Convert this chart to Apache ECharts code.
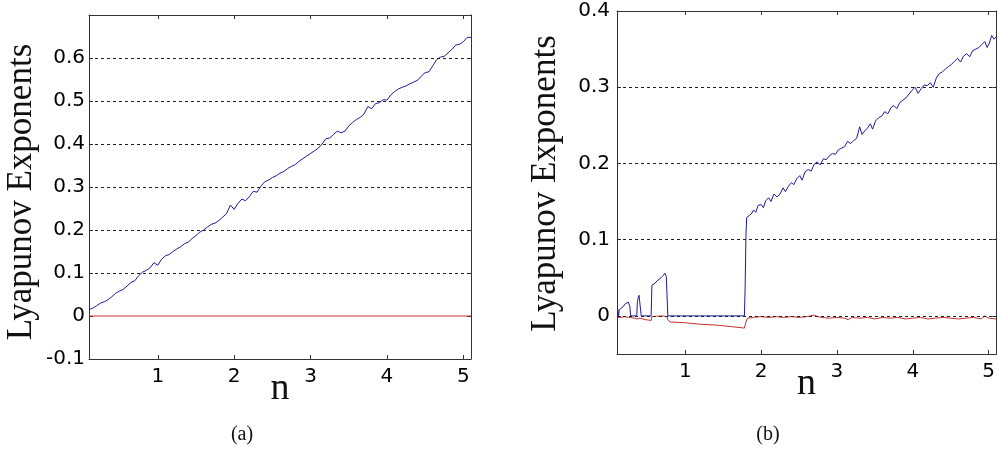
<!DOCTYPE html>
<html lang="en">
<head>
  <meta charset="utf-8">
</head>
<body style="margin: 0; background: #fff">
<div id="container" style="width: 998px; height: 453px"></div>

<script type="text/javascript" src="https://cdn.jsdelivr.net/npm/echarts@6/dist/echarts.min.js"></script>

<script type="text/javascript">
  // panel (a): n from 0.10 to 5.10, step 0.05
  var nA = [0.10,0.15,0.20,0.25,0.30,0.35,0.40,0.45,0.50,0.55,0.60,0.65,0.70,0.75,0.80,0.85,0.90,0.95,1.00,1.05,
            1.10,1.15,1.20,1.25,1.30,1.35,1.40,1.45,1.50,1.55,1.60,1.65,1.70,1.75,1.80,1.85,1.90,1.95,2.00,2.05,
            2.10,2.15,2.20,2.25,2.30,2.35,2.40,2.45,2.50,2.55,2.60,2.65,2.70,2.75,2.80,2.85,2.90,2.95,3.00,3.05,
            3.10,3.15,3.20,3.25,3.30,3.35,3.40,3.45,3.50,3.55,3.60,3.65,3.70,3.75,3.80,3.85,3.90,3.95,4.00,4.05,
            4.10,4.15,4.20,4.25,4.30,4.35,4.40,4.45,4.50,4.55,4.60,4.65,4.70,4.75,4.80,4.85,4.90,4.95,5.00,5.05,5.10];
  var blueA = [0.015,0.018,0.024,0.030,0.033,0.038,0.045,0.053,0.058,0.062,0.070,0.078,0.082,0.094,0.102,0.106,0.112,0.124,0.118,0.132,
               0.140,0.143,0.150,0.156,0.161,0.168,0.172,0.180,0.187,0.195,0.200,0.207,0.213,0.216,0.222,0.230,0.238,0.258,0.248,0.262,
               0.272,0.268,0.278,0.290,0.288,0.302,0.312,0.316,0.322,0.326,0.332,0.336,0.343,0.348,0.352,0.360,0.366,0.372,0.378,0.384,
               0.390,0.400,0.412,0.414,0.422,0.430,0.426,0.430,0.442,0.450,0.457,0.462,0.470,0.487,0.482,0.494,0.496,0.503,0.502,0.514,
               0.522,0.528,0.532,0.535,0.540,0.544,0.548,0.558,0.566,0.568,0.582,0.596,0.602,0.604,0.612,0.620,0.630,0.632,0.638,0.648,0.648];
  var redA = [[0.10, 0], [5.10, 0]];

  // panel (b): [n, exponent]
  var blueB = [[0.11,0.009],[0.12,0.0],[0.13,0.008],[0.15,0.010],[0.18,0.012],[0.21,0.016],[0.25,0.018],[0.27,0.012],[0.28,0.0],
               [0.36,0.0],[0.37,0.020],[0.39,0.027],[0.41,0.027],[0.42,0.0],[0.55,0.0],[0.56,0.040],[0.60,0.043],[0.64,0.047],
               [0.68,0.050],[0.71,0.053],[0.73,0.056],[0.75,0.052],[0.77,0.0],[1.78,0.0],[1.79,0.040],[1.80,0.105],[1.81,0.129],
               [1.85,0.132],[1.88,0.135],[1.90,0.139],[1.93,0.136],[1.96,0.145],[2.00,0.146],[2.03,0.142],[2.06,0.151],[2.10,0.155],
               [2.13,0.150],[2.17,0.160],[2.21,0.156],[2.25,0.160],[2.29,0.168],[2.32,0.163],[2.36,0.170],[2.40,0.175],[2.43,0.172],
               [2.47,0.180],[2.51,0.184],[2.54,0.178],[2.58,0.189],[2.62,0.192],[2.66,0.190],[2.70,0.199],[2.74,0.202],[2.78,0.198],
               [2.82,0.206],[2.86,0.205],[2.90,0.210],[2.94,0.213],[2.98,0.212],[3.02,0.218],[3.06,0.220],[3.10,0.222],[3.14,0.229],
               [3.18,0.226],[3.22,0.230],[3.26,0.233],[3.30,0.248],[3.33,0.238],[3.37,0.243],[3.40,0.246],[3.44,0.252],[3.47,0.245],
               [3.51,0.256],[3.55,0.260],[3.59,0.262],[3.63,0.268],[3.67,0.265],[3.71,0.273],[3.75,0.276],[3.79,0.272],[3.83,0.280],
               [3.87,0.283],[3.91,0.286],[3.95,0.291],[3.99,0.296],[4.03,0.300],[4.07,0.292],[4.11,0.298],[4.15,0.303],[4.19,0.302],
               [4.23,0.306],[4.27,0.300],[4.31,0.312],[4.35,0.318],[4.39,0.320],[4.43,0.324],[4.47,0.327],[4.51,0.330],[4.55,0.334],
               [4.59,0.338],[4.63,0.333],[4.67,0.341],[4.71,0.344],[4.75,0.340],[4.79,0.348],[4.83,0.350],[4.87,0.352],[4.91,0.356],
               [4.95,0.360],[4.98,0.352],[5.01,0.358],[5.04,0.368],[5.07,0.363],[5.10,0.366]];
  var redB = [[0.11,-0.002],[0.15,-0.002],[0.20,-0.001],[0.25,-0.002],[0.28,-0.002],[0.33,-0.003],[0.36,-0.004],[0.40,-0.003],
              [0.42,-0.004],[0.48,-0.005],[0.55,-0.006],[0.56,-0.001],[0.62,-0.0005],[0.70,0.0],[0.76,-0.001],[0.77,-0.005],
              [0.80,-0.008],[1.00,-0.009],[1.20,-0.011],[1.40,-0.012],[1.60,-0.014],[1.78,-0.016],[1.80,-0.008],[1.82,-0.003],
              [1.90,-0.002],[2.00,-0.001],[2.10,-0.002],[2.20,-0.001],[2.30,-0.002],[2.40,-0.001],[2.50,-0.002],[2.60,-0.001],
              [2.70,0.001],[2.75,-0.001],[2.80,-0.002],[2.90,-0.003],[3.00,-0.002],[3.10,-0.003],[3.15,-0.005],[3.20,-0.002],
              [3.30,-0.003],[3.40,-0.002],[3.50,-0.004],[3.60,-0.002],[3.70,-0.003],[3.80,-0.002],[3.90,-0.004],[4.00,-0.003],
              [4.10,-0.002],[4.20,-0.004],[4.30,-0.003],[4.40,-0.002],[4.50,-0.003],[4.60,-0.004],[4.70,-0.003],[4.80,-0.002],
              [4.90,-0.004],[4.95,0.0],[5.00,-0.003],[5.10,-0.004]];

  var nTicks = [1, 2, 3, 4, 5];
  var yTicksA = [-0.1, 0, 0.1, 0.2, 0.3, 0.4, 0.5, 0.6];
  var gridA = [0.1, 0.2, 0.3, 0.4, 0.5, 0.6];
  var yTicksB = [0, 0.1, 0.2, 0.3, 0.4];
  var gridB = [0, 0.1, 0.2, 0.3];

  var frame = '#333';
  var tickFont = { fontFamily: 'DejaVu Sans', fontSize: 20, color: '#000' };

  function xAxes(gi) {
    return [
      {
        type: 'value', gridIndex: gi, position: 'bottom', min: 0.1, max: 5.1,
        name: 'n', nameLocation: 'middle', nameGap: 11, nameMoveOverlap: false,
        nameTextStyle: { fontFamily: 'Liberation Serif', fontSize: 38, color: '#111' },
        axisLine: { show: true, onZero: false, lineStyle: { color: frame, width: 1 } },
        axisTick: { inside: true, length: 4, customValues: nTicks, lineStyle: { color: frame } },
        axisLabel: Object.assign({ margin: 8, customValues: nTicks }, tickFont),
        splitLine: { show: false }
      },
      {
        type: 'value', gridIndex: gi, position: 'top', min: 0.1, max: 5.1,
        axisLine: { show: true, onZero: false, lineStyle: { color: frame, width: 1 } },
        axisTick: { inside: true, length: 4, customValues: nTicks, lineStyle: { color: frame } },
        axisLabel: { show: false },
        splitLine: { show: false }
      }
    ];
  }

  function yAxes(gi, min, max, ticks, gap, lblMargin, shift) {
    return [
      {
        type: 'value', gridIndex: gi, position: 'left', min: min, max: max,
        name: 'Lyapunov Exponents', nameLocation: 'middle', nameGap: gap, nameMoveOverlap: false,
        nameTextStyle: { fontFamily: 'Liberation Serif', fontSize: 35, color: '#111', padding: [0, shift, 0, 0] },
        axisLine: { show: true, onZero: false, lineStyle: { color: frame, width: 1 } },
        axisTick: { inside: true, length: 4, customValues: ticks, lineStyle: { color: frame } },
        axisLabel: Object.assign({ margin: lblMargin, customValues: ticks }, tickFont),
        splitLine: { show: false }
      },
      {
        type: 'value', gridIndex: gi, position: 'right', min: min, max: max,
        axisLine: { show: true, onZero: false, lineStyle: { color: frame, width: 1 } },
        axisTick: { inside: true, length: 4, customValues: ticks, lineStyle: { color: frame } },
        axisLabel: { show: false },
        splitLine: { show: false }
      }
    ];
  }

  function gridLines(vals) {
    return {
      silent: true, symbol: 'none', animation: false,
      label: { show: false },
      lineStyle: { color: '#222', type: [3, 3], width: 1 },
      data: vals.map(function (v) { return { yAxis: v }; })
    };
  }

  var blueColor = '#1c1c9c';
  var redColor = '#c43030';

  var dom = document.getElementById('container');
  var myChart = echarts.init(dom, null, { renderer: 'canvas' });

  var option = {
    animation: false,
    backgroundColor: '#fff',
    grid: [
      { left: 89, top: 15, width: 382, height: 344 },
      { left: 617, top: 11, width: 380, height: 343 }
    ],
    xAxis: xAxes(0).concat(xAxes(1)),
    yAxis: yAxes(0, -0.1, 0.7, yTicksA, 50, 4, 10).concat(yAxes(1, -0.05, 0.4, yTicksB, 54, 7, 2)),
    series: [
      {
        type: 'line', xAxisIndex: 0, yAxisIndex: 0, showSymbol: false, z: 3,
        data: nA.map(function (n, i) { return [n, blueA[i]]; }),
        lineStyle: { color: blueColor, width: 1 },
        markLine: gridLines(gridA)
      },
      {
        type: 'line', xAxisIndex: 0, yAxisIndex: 0, showSymbol: false, z: 4,
        data: redA,
        lineStyle: { color: redColor, width: 1 }
      },
      {
        type: 'line', xAxisIndex: 2, yAxisIndex: 2, showSymbol: false, z: 3,
        data: redB,
        lineStyle: { color: redColor, width: 1 },
        markLine: gridLines(gridB)
      },
      {
        type: 'line', xAxisIndex: 2, yAxisIndex: 2, showSymbol: false, z: 4,
        data: blueB,
        lineStyle: { color: blueColor, width: 1 }
      }
    ],
    graphic: [
      { type: 'text', x: 242, y: 435, style: { text: '(a)', align: 'center', verticalAlign: 'middle', font: '20px "Liberation Serif"', fill: '#111' } },
      { type: 'text', x: 768, y: 435, style: { text: '(b)', align: 'center', verticalAlign: 'middle', font: '20px "Liberation Serif"', fill: '#111' } }
    ]
  };

  myChart.setOption(option);
  window.addEventListener('resize', myChart.resize);
</script>
</body>
</html>
